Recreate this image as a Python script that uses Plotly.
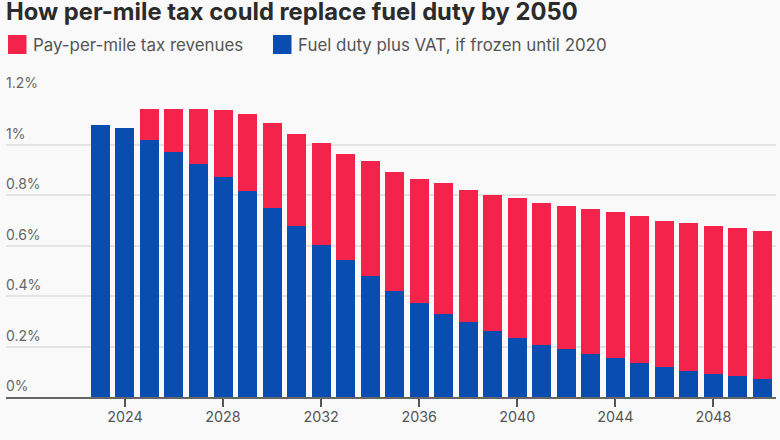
import plotly.graph_objects as go

years = list(range(2023, 2051))
# fuel duty plus VAT, % of GDP
fuel_duty = [1.078, 1.065, 1.016, 0.969, 0.923, 0.872, 0.816, 0.747, 0.677, 0.603,
             0.541, 0.479, 0.421, 0.373, 0.330, 0.296, 0.263, 0.234, 0.207, 0.189,
             0.170, 0.154, 0.136, 0.117, 0.103, 0.092, 0.082, 0.072]
pay_per_mile = [0, 0, 0.126, 0.173, 0.219, 0.263, 0.303, 0.337, 0.366, 0.403,
                0.423, 0.456, 0.469, 0.492, 0.518, 0.522, 0.538, 0.554, 0.561, 0.566,
                0.576, 0.577, 0.579, 0.581, 0.586, 0.585, 0.587, 0.587]
y_ticks = [0, 0.2, 0.4, 0.6, 0.8, 1, 1.2]
y_labels = ["0%", "0.2%", "0.4%", "0.6%", "0.8%", "1%", "1.2%"]
x_ticks = [2024, 2028, 2032, 2036, 2040, 2044, 2048]

title = "How per-mile tax could replace fuel duty by 2050"
legend_names = ["Pay-per-mile tax revenues", "Fuel duty plus VAT, if frozen until 2020"]

RED = "#f4234b"
BLUE = "#0a4db0"
BG = "#f9f9f9"
FONT = "Inter"
W, H = 780, 440
TOP, BOTTOM, LEFT, RIGHT = 94, 43, 6, 4
plot_w = W - LEFT - RIGHT
plot_h = H - TOP - BOTTOM


def px_x(px):
    return (px - LEFT) / plot_w


def px_y(px):
    return 1 + (TOP - px) / plot_h


fig = go.Figure()
fig.add_trace(go.Bar(x=years, y=fuel_duty, name=legend_names[1], marker_color=BLUE, marker_line_width=0))
fig.add_trace(go.Bar(x=years, y=pay_per_mile, name=legend_names[0], marker_color=RED, marker_line_width=0))

fig.update_layout(
    width=W, height=H, barmode="stack", bargap=0.225,
    paper_bgcolor=BG, plot_bgcolor=BG, showlegend=False,
    margin=dict(l=LEFT, r=RIGHT, t=TOP, b=BOTTOM),
    font=dict(family=FONT, color="#555555", size=14),
)
fig.update_xaxes(range=[2019.15, 2050.55], tickmode="array", tickvals=x_ticks,
                 ticks="outside", ticklen=8, tickwidth=1.5, tickcolor="#555555",
                 ticklabelstandoff=-2,
                 showgrid=False, showline=True, linecolor="#666666", linewidth=2,
                 tickfont=dict(size=14.3, color="#555555"))
fig.update_yaxes(range=[0, 1.2], tickvals=y_ticks, showticklabels=False,
                 gridcolor="#e4e4e4", gridwidth=1.5, zeroline=False)

# title as annotation, it sits hard against the top edge in the original
fig.add_annotation(x=0, xref="paper", xanchor="left", xshift=-2, y=px_y(11.5), yref="paper", yanchor="middle",
                   text="<b>" + title + "</b>", showarrow=False,
                   font=dict(size=23.75, color="#2b2b2b"))

# y labels sit above their gridlines, flush left
for v, lab in zip(y_ticks, y_labels):
    fig.add_annotation(x=0, xref="paper", xanchor="left", xshift=-2, y=v, yref="y", yanchor="bottom",
                       yshift=1, text=lab, showarrow=False, font=dict(size=14, color="#666666"))

# legend drawn by hand to get the large square swatches
for x0, col, name in [(8, RED, legend_names[0]), (273, BLUE, legend_names[1])]:
    fig.add_shape(type="rect", xref="paper", yref="paper",
                  x0=px_x(x0), x1=px_x(x0 + 18.5), y0=px_y(54), y1=px_y(35),
                  fillcolor=col, line_width=0)
    fig.add_annotation(x=px_x(x0 + 25), xref="paper", xanchor="left", xshift=-2,
                       y=px_y(45), yref="paper", yanchor="middle",
                       text=name, showarrow=False, font=dict(size=16.9, color="#555555"))

fig.write_html("out.html", config={"displayModeBar": False},
               post_script="document.body.style.margin='0';document.body.style.background='" + BG + "';")
